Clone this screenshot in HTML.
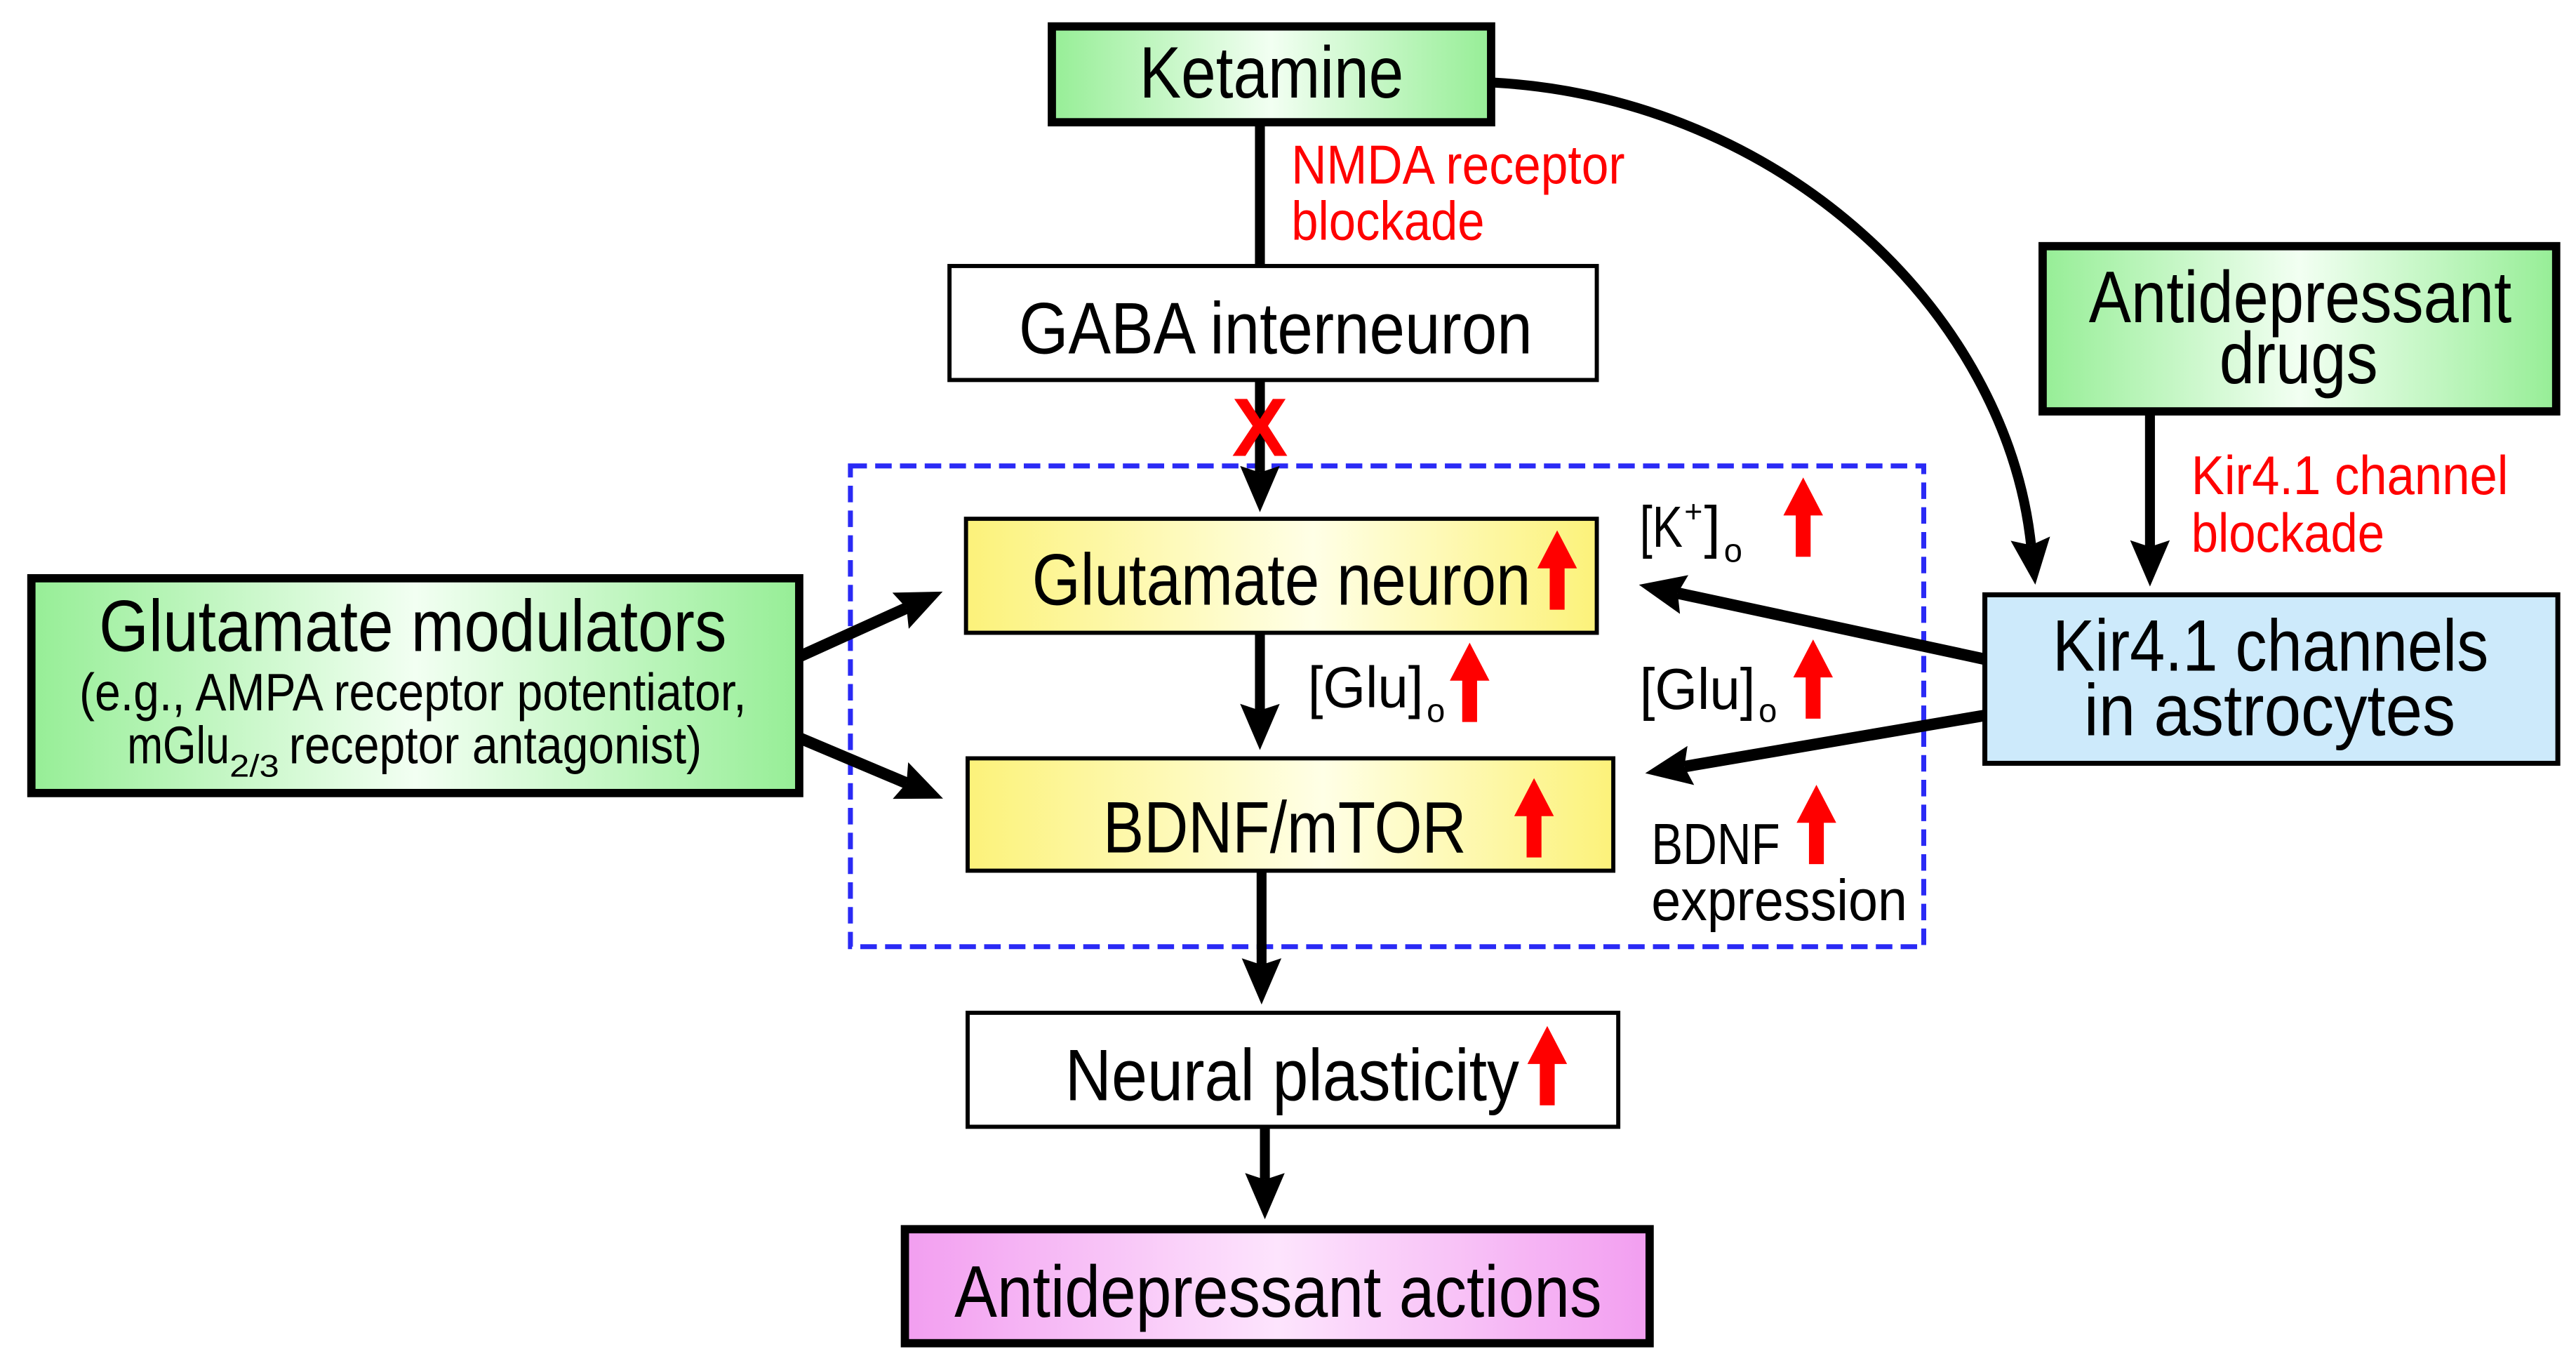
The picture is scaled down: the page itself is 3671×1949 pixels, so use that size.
<!DOCTYPE html>
<html><head><meta charset="utf-8"><style>
html,body{margin:0;padding:0;background:#fff;}
svg{display:block;}
text{font-family:"Liberation Sans",sans-serif;}
</style></head><body>
<svg width="3671" height="1949" viewBox="0 0 1560 828" preserveAspectRatio="none" xmlns="http://www.w3.org/2000/svg">
<defs>
<linearGradient id="g" x1="0" x2="1" y1="0" y2="0"><stop offset="0" stop-color="#96ee96"/><stop offset="0.5" stop-color="#f2fff2"/><stop offset="1" stop-color="#96ee96"/></linearGradient>
<linearGradient id="y" x1="0" x2="1" y1="0" y2="0"><stop offset="0" stop-color="#fcf27a"/><stop offset="0.55" stop-color="#ffffe6"/><stop offset="1" stop-color="#fcf27a"/></linearGradient>
<linearGradient id="p" x1="0" x2="1" y1="0" y2="0"><stop offset="0" stop-color="#f29ef0"/><stop offset="0.5" stop-color="#fde4fd"/><stop offset="1" stop-color="#f29ef0"/></linearGradient>
<marker id="ah" markerWidth="30" markerHeight="30" refX="4" refY="12" orient="auto" markerUnits="userSpaceOnUse"><path d="M0,0 L28,12 L0,24 L4,12 Z" fill="#000"/></marker>
<g id="ra"><polygon points="0,-48 -12,-25 -4.5,-25 -4.5,0 4.5,0 4.5,-25 12,-25" fill="#f00"/></g>
</defs>

<rect x="515" y="282" width="650" height="291" fill="none" stroke="#2a2af5" stroke-width="3" stroke-dasharray="10,5"/>

<line x1="763" y1="76" x2="763" y2="160" stroke="#000" stroke-width="6"/>
<line x1="763" y1="230" x2="763" y2="286" stroke="#000" stroke-width="6" marker-end="url(#ah)"/>
<line x1="763" y1="383" x2="763" y2="430" stroke="#000" stroke-width="6" marker-end="url(#ah)"/>
<line x1="764" y1="527" x2="764" y2="584" stroke="#000" stroke-width="6" marker-end="url(#ah)"/>
<line x1="766" y1="682" x2="766" y2="714" stroke="#000" stroke-width="6" marker-end="url(#ah)"/>
<line x1="1302" y1="250" x2="1302" y2="331" stroke="#000" stroke-width="6" marker-end="url(#ah)"/>
<path d="M905,50 C1080,60 1215,190 1230,330" fill="none" stroke="#000" stroke-width="6" marker-end="url(#ah)"/>
<line x1="485" y1="397" x2="549" y2="368" stroke="#000" stroke-width="7" marker-end="url(#ah)"/>
<line x1="485" y1="447" x2="549" y2="474" stroke="#000" stroke-width="7" marker-end="url(#ah)"/>
<line x1="1202" y1="399" x2="1016" y2="359" stroke="#000" stroke-width="7" marker-end="url(#ah)"/>
<line x1="1202" y1="433" x2="1020" y2="464" stroke="#000" stroke-width="7" marker-end="url(#ah)"/>

<text x="763" y="276" font-size="50" font-weight="bold" fill="#f00" text-anchor="middle" textLength="34" lengthAdjust="spacingAndGlyphs">X</text>

<rect x="637" y="16" width="266" height="58" fill="url(#g)" stroke="#000" stroke-width="5"/>
<text x="770" y="59" font-size="44" text-anchor="middle" textLength="160" lengthAdjust="spacingAndGlyphs">Ketamine</text>

<text x="782" y="111" font-size="33" fill="#f00" textLength="202" lengthAdjust="spacingAndGlyphs">NMDA receptor</text>
<text x="782" y="145" font-size="33" fill="#f00" textLength="117" lengthAdjust="spacingAndGlyphs">blockade</text>

<rect x="575" y="161" width="392" height="69" fill="#fff" stroke="#000" stroke-width="2.5"/>
<text x="617" y="214" font-size="44" textLength="311" lengthAdjust="spacingAndGlyphs">GABA interneuron</text>

<rect x="585" y="314" width="382" height="69" fill="url(#y)" stroke="#000" stroke-width="2.5"/>
<text x="625" y="366" font-size="44" textLength="302" lengthAdjust="spacingAndGlyphs">Glutamate neuron</text>
<use href="#ra" x="943" y="369"/>

<text x="792" y="428" font-size="35" textLength="70" lengthAdjust="spacingAndGlyphs">[Glu]</text>
<text x="864" y="437" font-size="20">o</text>
<use href="#ra" x="890" y="437"/>

<rect x="586" y="459" width="391" height="68" fill="url(#y)" stroke="#000" stroke-width="2.5"/>
<text x="668" y="516" font-size="44" textLength="220" lengthAdjust="spacingAndGlyphs">BDNF/mTOR</text>
<use href="#ra" x="929" y="519"/>

<rect x="586" y="613" width="394" height="69" fill="#fff" stroke="#000" stroke-width="2.5"/>
<text x="645" y="666" font-size="44" textLength="275" lengthAdjust="spacingAndGlyphs">Neural plasticity</text>
<use href="#ra" x="937" y="669"/>

<rect x="548" y="744" width="451" height="69" fill="url(#p)" stroke="#000" stroke-width="5"/>
<text x="578" y="797" font-size="44" textLength="392" lengthAdjust="spacingAndGlyphs">Antidepressant actions</text>

<rect x="19" y="350" width="465" height="130" fill="url(#g)" stroke="#000" stroke-width="5"/>
<text x="60" y="394" font-size="44" textLength="380" lengthAdjust="spacingAndGlyphs">Glutamate modulators</text>
<text x="48" y="430" font-size="32" textLength="404" lengthAdjust="spacingAndGlyphs">(e.g., AMPA receptor potentiator,</text>
<text x="77" y="462" font-size="32" textLength="62" lengthAdjust="spacingAndGlyphs">mGlu</text>
<text x="139" y="470" font-size="19" textLength="30" lengthAdjust="spacingAndGlyphs">2/3</text>
<text x="175" y="462" font-size="32" textLength="250" lengthAdjust="spacingAndGlyphs">receptor antagonist)</text>

<rect x="1237" y="149" width="311" height="100" fill="url(#g)" stroke="#000" stroke-width="5"/>
<text x="1265" y="195" font-size="44" textLength="256" lengthAdjust="spacingAndGlyphs">Antidepressant</text>
<text x="1392" y="232" font-size="44" text-anchor="middle" textLength="96" lengthAdjust="spacingAndGlyphs">drugs</text>

<text x="1327" y="299" font-size="33" fill="#f00" textLength="192" lengthAdjust="spacingAndGlyphs">Kir4.1 channel</text>
<text x="1327" y="334" font-size="33" fill="#f00" textLength="117" lengthAdjust="spacingAndGlyphs">blockade</text>

<rect x="1202" y="360" width="347" height="102" fill="#cdeafb" stroke="#000" stroke-width="3"/>
<text x="1243" y="406" font-size="44" textLength="264" lengthAdjust="spacingAndGlyphs">Kir4.1 channels</text>
<text x="1262" y="445" font-size="44" textLength="225" lengthAdjust="spacingAndGlyphs">in astrocytes</text>

<text x="993" y="331" font-size="35" textLength="26" lengthAdjust="spacingAndGlyphs">[K</text>
<text x="1020" y="316" font-size="19">+</text>
<text x="1032" y="331" font-size="35" textLength="10" lengthAdjust="spacingAndGlyphs">]</text>
<text x="1044" y="340" font-size="20">o</text>
<use href="#ra" x="1092" y="337"/>

<text x="993" y="429" font-size="35" textLength="70" lengthAdjust="spacingAndGlyphs">[Glu]</text>
<text x="1065" y="437" font-size="20">o</text>
<use href="#ra" x="1098" y="435"/>

<text x="1000" y="523" font-size="35" textLength="78" lengthAdjust="spacingAndGlyphs">BDNF</text>
<use href="#ra" x="1100" y="523"/>
<text x="1000" y="557" font-size="35" textLength="155" lengthAdjust="spacingAndGlyphs">expression</text>
</svg>
</body></html>
